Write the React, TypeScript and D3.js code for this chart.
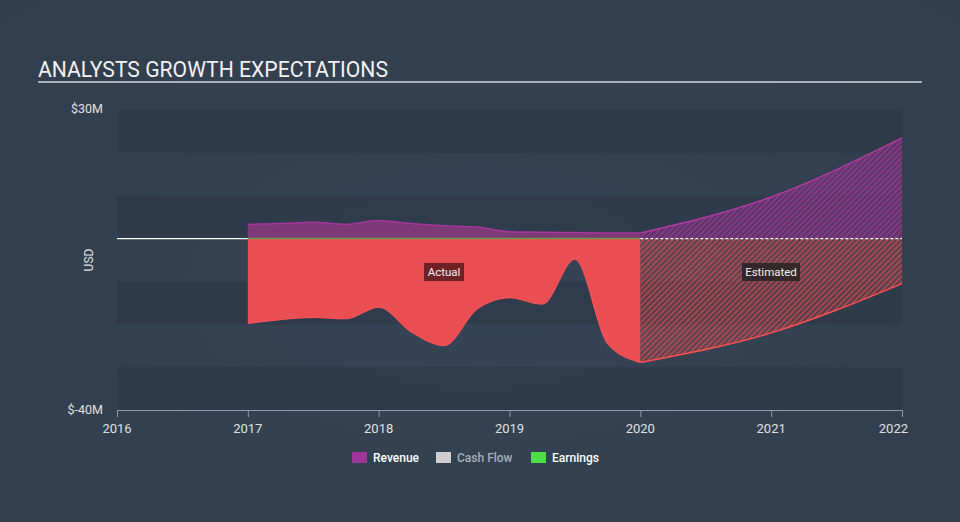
import React from "react";
import * as d3 from "d3";

const actualYears = [2017, 2017.25, 2017.5, 2017.75, 2018, 2018.25, 2018.5, 2018.75, 2019, 2019.25, 2019.5, 2019.75, 2020];
const revenueActual = [3.3, 3.5, 3.8, 3.3, 4.2, 3.5, 3.0, 2.7, 1.6, 1.5, 1.4, 1.3, 1.3];
const earningsActual = [-19.8, -18.9, -18.4, -18.7, -16.0, -21.8, -25.0, -16.5, -13.8, -15.3, -4.8, -24.5, -28.9];
const estYears = [2020, 2021, 2022];
const revenueEst = [1.3, 9.7, 23.5];
const earningsEst = [-28.9, -22.0, -10.5];
const xTicks = [2016, 2017, 2018, 2019, 2020, 2021, 2022];
const yDomain = [-40, 30];
const yTickLabels = ["$30M", "$-40M"];
const bandEdges = [30, 20, 10, 0, -10, -20, -30, -40];
const legendItems = [
  { name: "Revenue", color: "#a0359a", text: "#ffffff" },
  { name: "Cash Flow", color: "#cfcfcf", text: "#a9b0b9" },
  { name: "Earnings", color: "#4ddc4a", text: "#ffffff" },
];

export default function App() {
  const W = 960, H = 522;
  const x = d3.scaleLinear().domain([2016, 2022]).range([117, 902]);
  const y = d3.scaleLinear().domain(yDomain).range([410, 110]);
  const font = "Roboto, 'Open Sans', sans-serif";

  const actualIdx = actualYears.map((_, i) => i);
  const estIdx = estYears.map((_, i) => i);

  const revArea = d3.area<number>().x(i => x(actualYears[i])).y0(y(0)).y1(i => y(revenueActual[i])).curve(d3.curveMonotoneX);
  const revLine = d3.line<number>().x(i => x(actualYears[i])).y(i => y(revenueActual[i])).curve(d3.curveMonotoneX);
  const earnArea = d3.area<number>().x(i => x(actualYears[i])).y0(y(0)).y1(i => y(earningsActual[i])).curve(d3.curveMonotoneX);
  const earnLine = d3.line<number>().x(i => x(actualYears[i])).y(i => y(earningsActual[i])).curve(d3.curveMonotoneX);

  const revEstArea = d3.area<number>().x(i => x(estYears[i])).y0(y(0)).y1(i => y(revenueEst[i])).curve(d3.curveMonotoneX);
  const revEstLine = d3.line<number>().x(i => x(estYears[i])).y(i => y(revenueEst[i])).curve(d3.curveMonotoneX);
  const earnEstArea = d3.area<number>().x(i => x(estYears[i])).y0(y(0)).y1(i => y(earningsEst[i])).curve(d3.curveMonotoneX);
  const earnEstLine = d3.line<number>().x(i => x(estYears[i])).y(i => y(earningsEst[i])).curve(d3.curveMonotoneX);

  const x0 = x(2016), x1 = x(2022), xSplit = x(2020), xStart = x(2017);

  const legendX = [352, 436, 531];

  return (
    <svg width={W} height={H} style={{ position: "absolute", left: 0, top: 0 }} fontFamily={font}>
      <defs>
        <radialGradient id="bg" cx="0.5" cy="0.55" r="0.75">
          <stop offset="0" stopColor="#354455" />
          <stop offset="1" stopColor="#313d4b" />
        </radialGradient>
        <pattern id="hatchPurple" patternUnits="userSpaceOnUse" width="4" height="4" patternTransform="rotate(45)">
          <rect width="4" height="4" fill="#9c3290" fillOpacity="0.35" />
          <line x1="1" y1="0" x2="1" y2="4" stroke="#a0359a" strokeWidth="1.6" strokeOpacity="0.85" />
        </pattern>
        <pattern id="hatchRed" patternUnits="userSpaceOnUse" width="4" height="4" patternTransform="rotate(45)">
          <rect width="4" height="4" fill="#e84c52" fillOpacity="0.2" />
          <line x1="1" y1="0" x2="1" y2="4" stroke="#e84c52" strokeWidth="1.6" strokeOpacity="0.7" />
        </pattern>
      </defs>
      <rect width={W} height={H} fill="url(#bg)" />

      {/* Title */}
      <text x={38} y={77} fill="#f2f2f2" fontSize={21.2} textLength={350} lengthAdjust="spacingAndGlyphs">ANALYSTS GROWTH EXPECTATIONS</text>
      <line x1={38} x2={922} y1={82} y2={82} stroke="#a9b0b8" strokeWidth={2} />

      {/* Bands */}
      {bandEdges.slice(0, -1).map((v, i) => (i % 2 === 0 ? (
        <rect key={v} x={x0} width={x1 - x0} y={y(v)} height={y(bandEdges[i + 1]) - y(v)} fill="#2b3745" fillOpacity={0.55} />
      ) : null))}

      {/* Estimated areas */}
      <path d={revEstArea(estIdx) || ""} fill="url(#hatchPurple)" />
      <path d={earnEstArea(estIdx) || ""} fill="url(#hatchRed)" />
      <path d={revEstLine(estIdx) || ""} fill="none" stroke="#b23aa3" strokeWidth={1.5} />
      <path d={earnEstLine(estIdx) || ""} fill="none" stroke="#ff4f50" strokeWidth={1.5} />

      {/* Actual areas */}
      <path d={revArea(actualIdx) || ""} fill="#7d3a76" />
      <path d={revLine(actualIdx) || ""} fill="none" stroke="#a7359c" strokeWidth={1.5} />
      <path d={earnArea(actualIdx) || ""} fill="#eb4e52" />
      <path d={earnLine(actualIdx) || ""} fill="none" stroke="#f5525a" strokeWidth={1.2} />

      {/* Zero line */}
      <line x1={x0} x2={xStart} y1={y(0)} y2={y(0)} stroke="#ffffff" strokeWidth={1.2} />
      <line x1={xStart} x2={xSplit} y1={y(0)} y2={y(0)} stroke="#6a9a4c" strokeWidth={1.5} />
      <line x1={xSplit} x2={x1} y1={y(0)} y2={y(0)} stroke="#ffffff" strokeWidth={1.2} strokeDasharray="3,2" />

      {/* Labels */}
      <rect x={424} y={263} width={40} height={18} fill="#6e2226" />
      <text x={444} y={276} fill="#f0f0f0" fontSize={11.5} textAnchor="middle">Actual</text>
      <rect x={742} y={263} width={58} height={18} fill="#2a2526" fillOpacity={0.9} />
      <text x={771} y={276} fill="#f0f0f0" fontSize={11.5} textAnchor="middle">Estimated</text>

      {/* Y labels */}
      <text x={103} y={113} fill="#e0e0e0" fontSize={12.5} textAnchor="end">{yTickLabels[0]}</text>
      <text x={103} y={414} fill="#e0e0e0" fontSize={12.5} textAnchor="end">{yTickLabels[1]}</text>
      <text transform={`translate(93,260) rotate(-90)`} fill="#e0e0e0" fontSize={12} textAnchor="middle">USD</text>

      {/* X axis */}
      <line x1={x0} x2={x1} y1={410.5} y2={410.5} stroke="#8e9cad" strokeWidth={1} />
      {xTicks.map(t => (
        <g key={t}>
          <line x1={x(t) + 0.5} x2={x(t) + 0.5} y1={410} y2={417} stroke="#8e9cad" strokeWidth={1} />
          <text x={x(t)} y={433} fill="#e0e0e0" fontSize={13} textAnchor={t === 2022 ? "end" : "middle"} dx={t === 2022 ? 6 : 0}>{t}</text>
        </g>
      ))}

      {/* Legend */}
      {legendItems.map((d, i) => (
        <g key={d.name}>
          <rect x={legendX[i]} y={452} width={15} height={11} fill={d.color} />
          <text x={legendX[i] + 21} y={462} fill={d.text} fontSize={12} fontWeight={500}>{d.name}</text>
        </g>
      ))}
    </svg>
  );
}
